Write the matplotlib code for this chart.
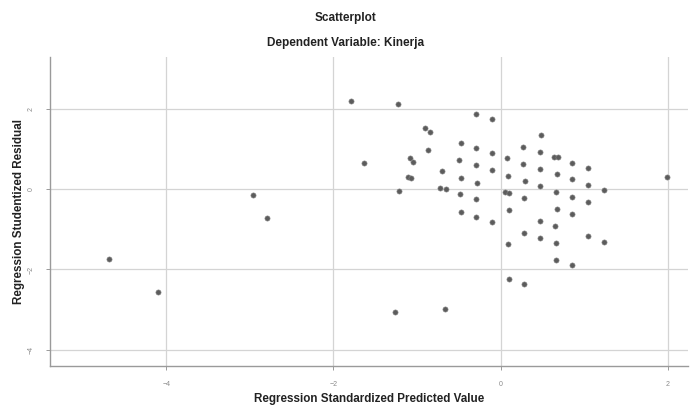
import matplotlib
matplotlib.use("Agg")
import matplotlib.pyplot as plt

# ── Data ────────────────────────────────────────────────────────────────────
pred_std = [
    -4.68, -4.10, -2.96, -2.80, -1.79, -1.23, -1.63, -1.27, -0.67,
    -0.30, -0.11, -0.90, -0.85, 0.48, -0.48, -0.29, -0.87, 0.27, 0.47,
    -0.10, 0.64, 0.68, -1.09, -1.05, 0.08, -0.50, 0.85, -0.30, 0.27,
    1.04, -0.70, -0.10, 0.47, -1.11, -1.07, 0.09, -0.47, 0.67, 1.99,
    -0.28, 0.29, 0.85, 0.47, 1.04, -1.22, -0.73, -0.66, 0.05, 0.10,
    0.66, 1.24, -0.49, -0.30, 0.28, 0.85, 1.04, 0.67, 0.10, -0.48,
    0.85, -0.30, -0.10, 0.47, 0.65, 0.28, 0.47, 1.04, 0.66, 1.24,
    0.09, 0.66, 0.85, 0.10, 0.28,
]
resid_stud = [
    -1.73, -2.57, -0.15, -0.72, 2.20, 2.12, 0.66, -3.07, -2.98,
    1.87, 1.75, 1.52, 1.44, 1.35, 1.16, 1.04, 0.98, 1.05, 0.93,
    0.90, 0.81, 0.81, 0.79, 0.69, 0.77, 0.73, 0.66, 0.60, 0.64,
    0.54, 0.46, 0.47, 0.50, 0.31, 0.27, 0.33, 0.29, 0.37, 0.31,
    0.16, 0.21, 0.25, 0.07, 0.11, -0.05, 0.04, 0.00, -0.08, -0.10,
    -0.06, -0.02, -0.13, -0.25, -0.22, -0.18, -0.32, -0.49, -0.52, -0.57,
    -0.62, -0.68, -0.82, -0.78, -0.91, -1.09, -1.21, -1.17, -1.35, -1.31,
    -1.36, -1.76, -1.90, -2.24, -2.36,
]
x_ticks = [-4, -2, 0, 2]
y_ticks = [-4, -2, 0, 2]

# ── Figure ──────────────────────────────────────────────────────────────────
plt.rcParams["font.family"] = ["Liberation Sans", "DejaVu Sans"]

fig = plt.figure(figsize=(6.91, 4.07), dpi=100)
ax = fig.add_axes([0.0724, 0.1015, 0.9233, 0.7585])

ax.scatter(pred_std, resid_stud, s=14, color="#5c5c5c",
           edgecolors="#8a8a8a", linewidths=0.4, zorder=3)

ax.set_xlim(-5.39, 2.24)
ax.set_ylim(-4.40, 3.30)
ax.set_xticks(x_ticks)
ax.set_yticks(y_ticks)

ax.grid(True, color="#d4d4d4", linewidth=0.9, zorder=0)
ax.set_axisbelow(True)

for side in ["top", "right"]:
    ax.spines[side].set_visible(False)
for side in ["left", "bottom"]:
    ax.spines[side].set_color("#9a9a9a")
    ax.spines[side].set_linewidth(1.0)

ax.tick_params(axis="both", length=3, width=0.7, color="#9a9a9a",
               labelsize=5, labelcolor="#8a8a8a", pad=8)
for lab in ax.get_yticklabels():
    lab.set_rotation(90)
    lab.set_va("center")

ax.set_xlabel("Regression Standardized Predicted Value",
              fontsize=8.4, fontweight="bold", color="#222222")
ax.set_ylabel("Regression Studentized Residual",
              fontsize=8.4, fontweight="bold", color="#222222")
ax.xaxis.set_label_coords(0.5, -0.088)
ax.yaxis.set_label_coords(-0.040, 0.5)

fig.text(0.5, 0.955, "Scatterplot", ha="center", va="center",
         fontsize=8.5, fontweight="bold", color="#222222")
fig.text(0.5, 0.895, "Dependent Variable: Kinerja", ha="center", va="center",
         fontsize=8.5, fontweight="bold", color="#222222")

fig.savefig("out.png", dpi=100)
